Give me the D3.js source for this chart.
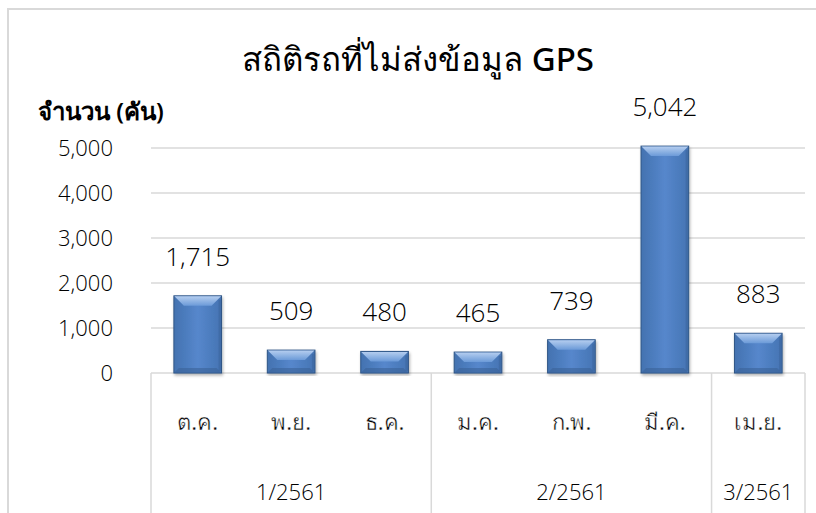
<!DOCTYPE html>
<html lang="th">
<head>
    <meta charset="UTF-8">
    <title>สถิติรถที่ไม่ส่งข้อมูล GPS</title>
    <script src="https://d3js.org/d3.v7.min.js"></script>
    <style>
        body { margin: 0; background: #fff; }
        text { font-family: "Open Sans", "Noto Sans", "DejaVu Sans", sans-serif; font-weight: 300; fill: #000; }
        text.thai { font-family: "Noto Sans", "DejaVu Sans", sans-serif; font-weight: 400; fill: #000;
                    stroke: #fff; stroke-width: 0.4px; paint-order: fill; }
        text.title { font-family: "Noto Sans", "DejaVu Sans", sans-serif; font-weight: 500; }
        text.bold { font-family: "Noto Sans", "DejaVu Sans", sans-serif; font-weight: 600; }
    </style>
</head>
<body>
    <svg></svg>
    <script>
        const months = ["ต.ค.", "พ.ย.", "ธ.ค.", "ม.ค.", "ก.พ.", "มี.ค.", "เม.ย."];
        const quarters = ["1/2561", "1/2561", "1/2561", "2/2561", "2/2561", "2/2561", "3/2561"];
        const values = [1715, 509, 480, 465, 739, 5042, 883];
        const yTicks = [0, 1000, 2000, 3000, 4000, 5000];

        const width = 816, height = 513;
        const plotL = 151, plotR = 805, plotT = 148, plotB = 373;

        const svg = d3.select("svg").attr("width", width).attr("height", height);

        const defs = svg.append("defs");
        const body = defs.append("linearGradient").attr("id", "body");
        body.append("stop").attr("offset", "0").attr("stop-color", "#4372b0");
        body.append("stop").attr("offset", "0.5").attr("stop-color", "#5687cc");
        body.append("stop").attr("offset", "1").attr("stop-color", "#4574b3");
        const topGrad = defs.append("linearGradient").attr("id", "bevel")
            .attr("x1", 0).attr("y1", 0).attr("x2", 0).attr("y2", 1);
        topGrad.append("stop").attr("offset", "0").attr("stop-color", "#b4cdef");
        topGrad.append("stop").attr("offset", "1").attr("stop-color", "#6b9ad8");
        defs.append("filter").attr("id", "shadow")
            .append("feDropShadow").attr("dx", 1).attr("dy", 2).attr("stdDeviation", 1.5)
            .attr("flood-color", "#000").attr("flood-opacity", 0.3);

        // chart border
        svg.append("rect").attr("x", 8).attr("y", 9).attr("width", 830).attr("height", 520)
            .attr("fill", "none").attr("stroke", "#d9d9d9").attr("stroke-width", 2);

        const x = d3.scaleBand().domain(d3.range(months.length)).range([plotL, plotR]);
        const y = d3.scaleLinear().domain([0, 5000]).range([plotB, plotT]);
        const barW = x.bandwidth() * 0.51;

        // gridlines
        svg.append("g").selectAll("line").data(yTicks).join("line")
            .attr("x1", plotL).attr("x2", plotR)
            .attr("y1", d => y(d)).attr("y2", d => y(d))
            .attr("stroke", "#d9d9d9").attr("stroke-width", 1.5);

        svg.append("g").selectAll("text").data(yTicks).join("text")
            .attr("x", 113).attr("y", d => y(d)).attr("dy", "0.36em")
            .attr("text-anchor", "end").attr("font-size", 22)
            .text(d => d3.format(",")(d));

        // table lines below the axis
        const groups = [];
        quarters.forEach((q, i) => {
            const g = groups.find(e => e.name === q);
            if (g) g.end = i; else groups.push({ name: q, start: i, end: i });
        });
        const edges = [plotL].concat(groups.map(g => x(g.end) + x.step()));
        svg.append("g").selectAll("line").data(edges).join("line")
            .attr("x1", d => d).attr("x2", d => d)
            .attr("y1", plotB).attr("y2", height)
            .attr("stroke", "#d9d9d9").attr("stroke-width", 1.5);

        // bars
        const b = 10;
        const bars = svg.append("g").selectAll("g").data(values).join("g")
            .attr("transform", (d, i) => `translate(${x(i) + (x.bandwidth() - barW) / 2},${y(d)})`);
        bars.append("rect").attr("width", barW).attr("height", d => y(0) - y(d))
            .attr("fill", "url(#body)").attr("stroke", "#2f5586").attr("stroke-width", 1)
            .attr("filter", "url(#shadow)");
        bars.append("path")
            .attr("d", d => `M0.5,0.5H${barW - 0.5}L${barW - b},${Math.min(b, (y(0) - y(d)) / 2)}H${b}Z`)
            .attr("fill", "url(#bevel)");
        bars.append("path")
            .attr("d", d => {
                const h = y(0) - y(d), bb = Math.min(b, h / 2) / 2;
                return `M0.5,${h - 0.5}H${barW - 0.5}L${barW - bb},${h - bb}H${bb}Z`;
            })
            .attr("fill", "#3a6298").attr("opacity", 0.6);
        bars.append("rect").attr("x", barW - 3).attr("y", 4).attr("width", 2.5)
            .attr("height", d => Math.max(0, y(0) - y(d) - 6)).attr("fill", "#3c669e").attr("opacity", 0.6);

        // value labels
        svg.append("g").selectAll("text").data(values).join("text")
            .attr("x", (d, i) => x(i) + x.bandwidth() / 2)
            .attr("y", d => y(d) - 30)
            .attr("text-anchor", "middle").attr("font-size", 26)
            .text(d => d3.format(",")(d));

        // month labels
        svg.append("g").selectAll("text").data(months).join("text")
            .attr("class", "thai")
            .attr("x", (d, i) => x(i) + x.bandwidth() / 2).attr("y", 430)
            .attr("text-anchor", "middle").attr("font-size", 22)
            .text(d => d);

        // quarter labels
        svg.append("g").selectAll("text").data(groups).join("text")
            .attr("x", g => (x(g.start) + x(g.end) + x.step()) / 2).attr("y", 500)
            .attr("text-anchor", "middle").attr("font-size", 22)
            .text(g => g.name);

        svg.append("text").attr("class", "title").attr("x", 418).attr("y", 71).attr("text-anchor", "middle")
            .attr("font-size", 33)
            .text("สถิติรถที่ไม่ส่งข้อมูล GPS");

        svg.append("text").attr("class", "bold").attr("x", 38).attr("y", 120)
            .attr("font-size", 24)
            .text("จำนวน (คัน)");
    </script>
</body>
</html>
